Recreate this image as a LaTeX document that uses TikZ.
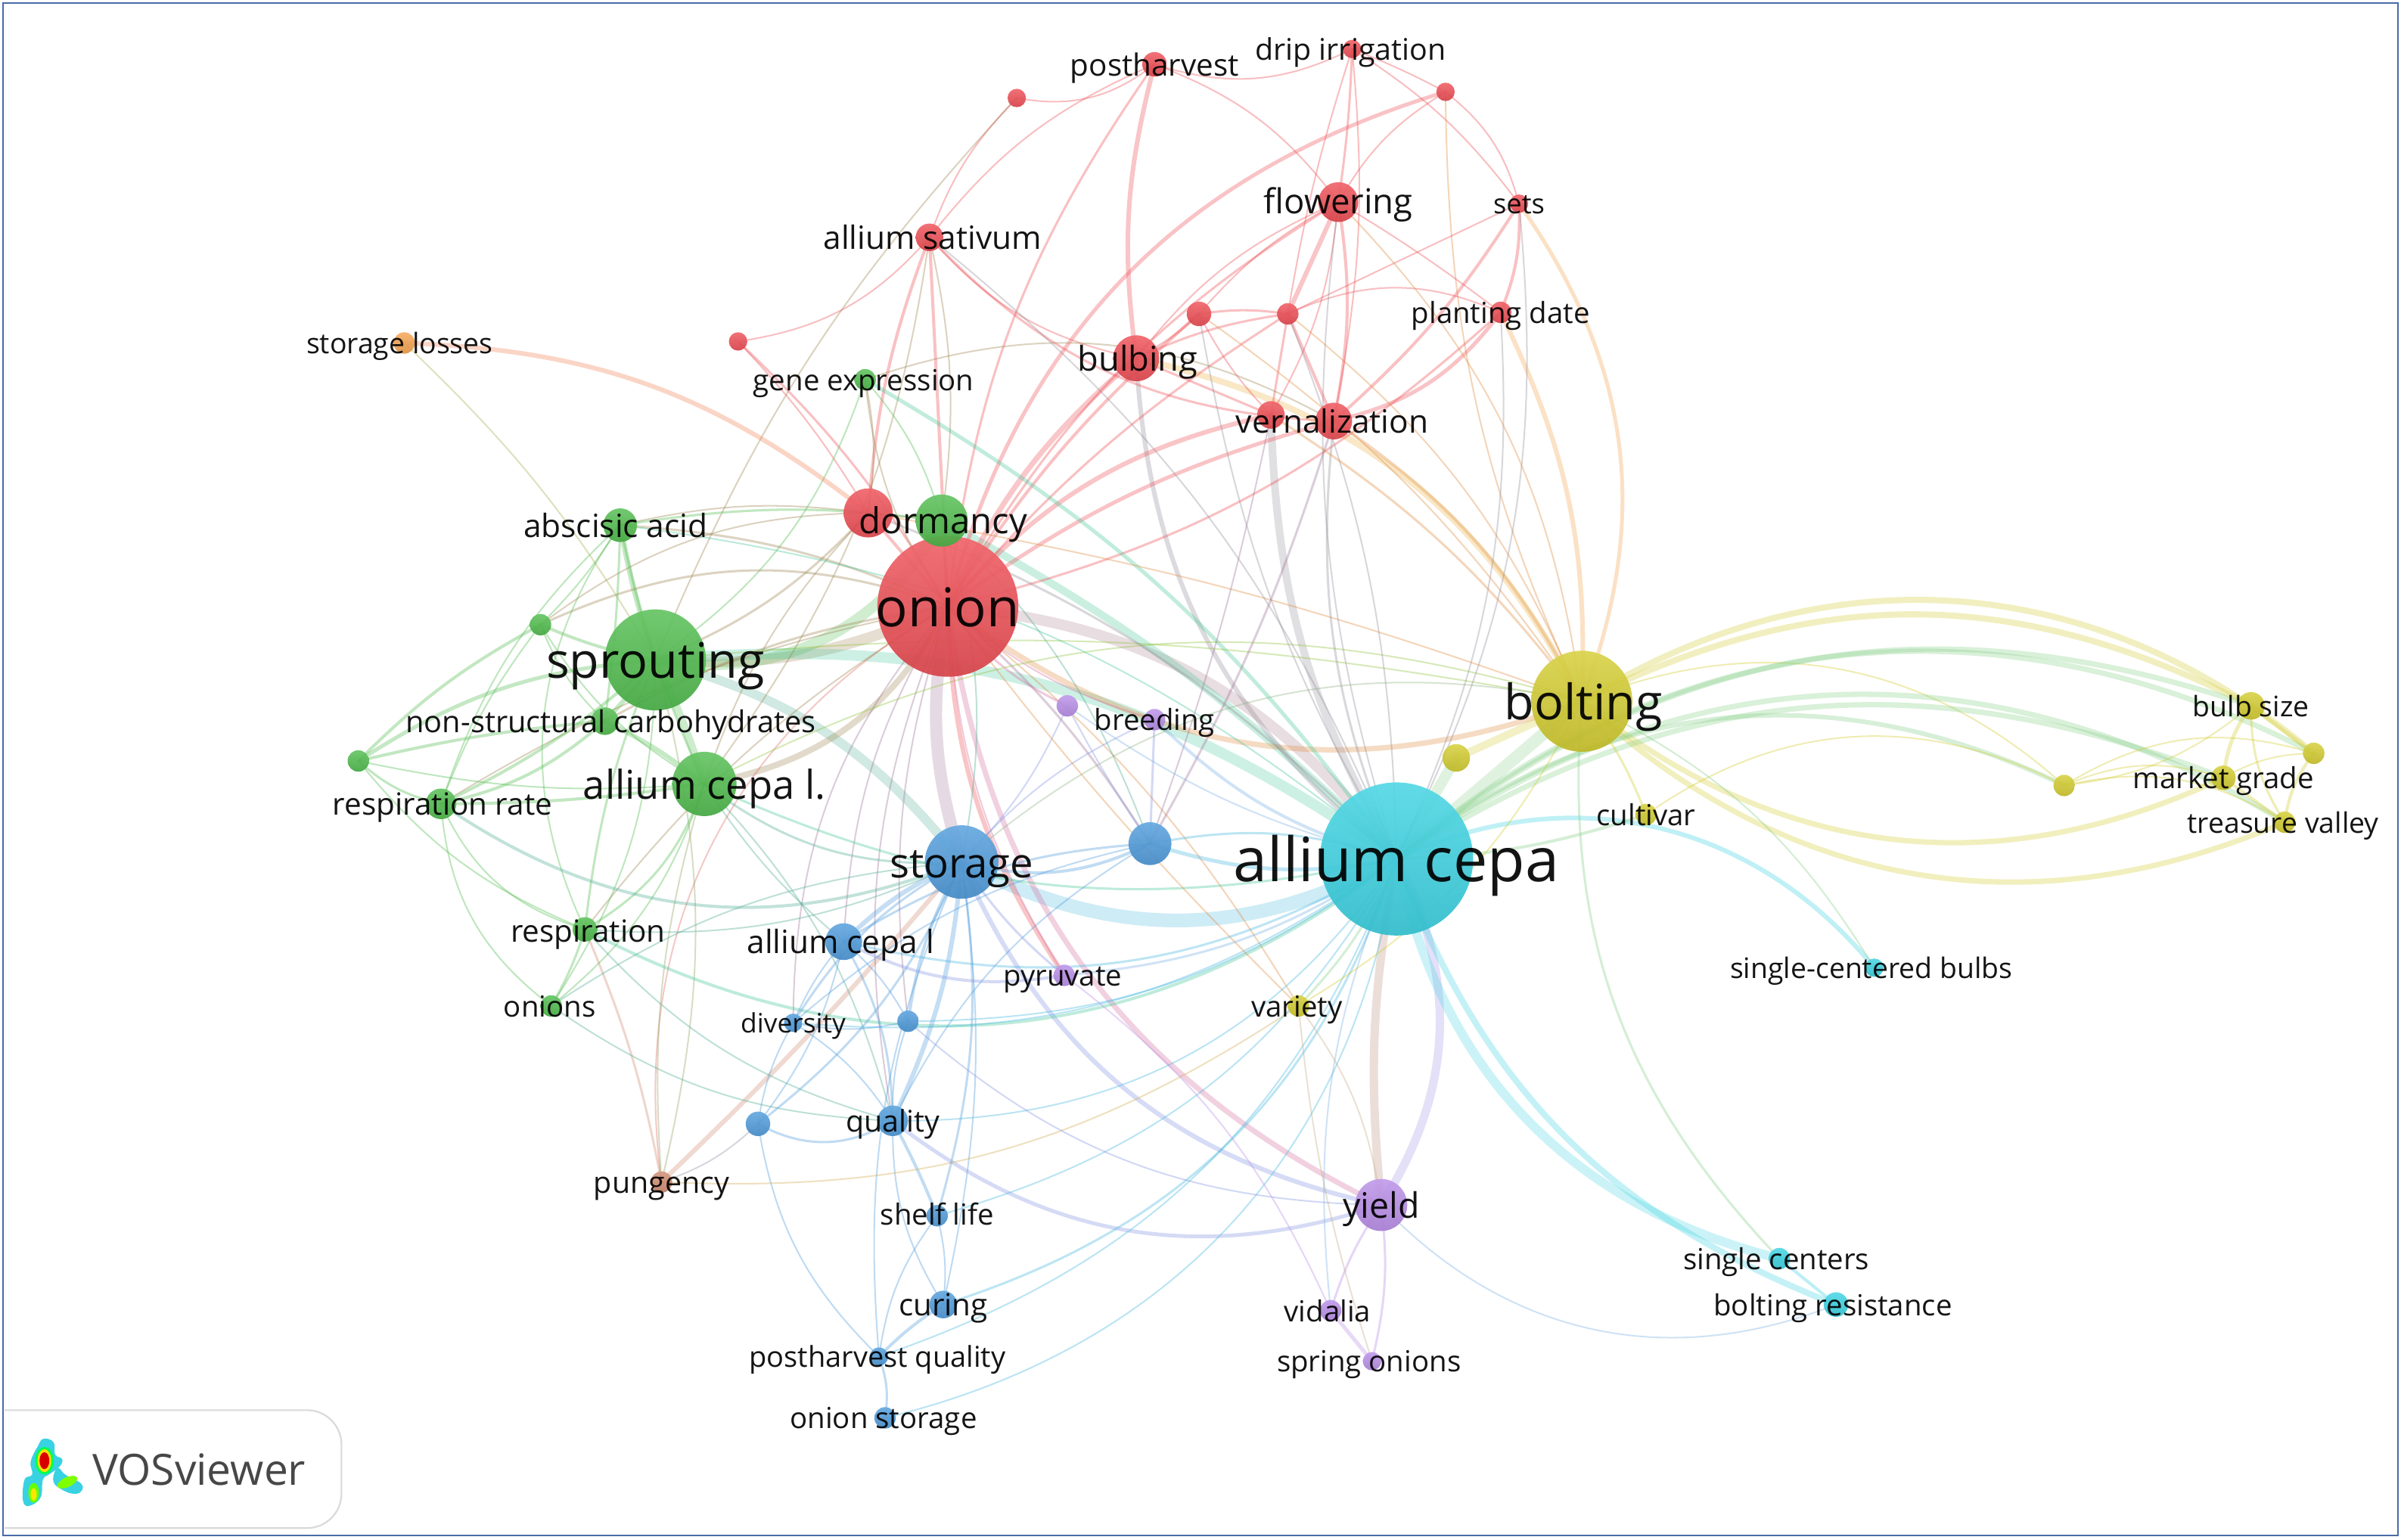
\documentclass[tikz,border=0pt]{standalone}
\usepackage{fontspec}
\setmainfont{Open Sans}
\usetikzlibrary{backgrounds}
\definecolor{cR}{HTML}{EE4B52}
\definecolor{cG}{HTML}{4DBB4A}
\definecolor{cB}{HTML}{4C9ADB}
\definecolor{cC}{HTML}{38D2E2}
\definecolor{cY}{HTML}{D3CC2C}
\definecolor{cP}{HTML}{B88CE8}
\definecolor{cO}{HTML}{F5A24C}
\definecolor{cT}{HTML}{D08A70}
\definecolor{frameblue}{HTML}{4A6CA8}
\tikzset{
  dotnode/.style={circle,inner sep=0pt,outer sep=0pt,fill opacity=.93,draw=none},
  lab/.style={inner sep=0pt,text=black,text opacity=.92},
  edgeline/.style={line cap=round},
}
\newcommand\Nd[5]{\expandafter\def\csname nc@#1\endcsname{#5}%
  \node[dotnode,top color=#5!85!white,bottom color=#5!90!black,minimum size=#4*0.1cm] (#1) at (#2,#3) {};}
\newcommand\Lb[5]{\pgfmathsetmacro\fsz{#4*1.42}\node[lab,text height=1.0*\fsz pt,text depth=0.25*\fsz pt,font=\fontsize{\fsz}{\fsz}\selectfont] (#1t) at (#2,#3) {#5};}
\newcommand\Lk[4]{\edef\ecol{\csname nc@#1\endcsname!50!\csname nc@#2\endcsname}%
  \pgfmathsetmacro\eop{max(.26,.38-.02*#3)}%
  \draw[edgeline,draw opacity=\eop,color=\ecol,line width=#3*1.42pt] (#1.center) to[bend left=#4] (#2.center);}
\newcommand\LkC[5]{\pgfmathsetmacro\eop{max(.26,.38-.02*#3)}%
  \draw[edgeline,draw opacity=\eop,color=#5,line width=#3*1.42pt] (#1.center) to[bend left=#4] (#2.center);}
\begin{document}
\begin{tikzpicture}[x=0.05cm,y=-0.05cm]
\useasboundingbox (0,0) rectangle (1568,1005.8);
% nodes
\Nd{ac}{912}{561}{50}{cC}
\Nd{on}{619}{396}{46}{cR}
\Nd{rd}{567}{335}{16}{cR}
\Nd{bu}{742}{234}{15}{cR}
\Nd{ve}{871}{275}{12}{cR}
\Nd{v2}{830}{271}{9}{cR}
\Nd{fl}{874}{132}{13}{cR}
\Nd{as}{607}{155}{9}{cR}
\Nd{ph}{754}{42}{8}{cR}
\Nd{di}{883}{32}{6}{cR}
\Nd{se}{992}{133}{6}{cR}
\Nd{pd}{980}{204}{7}{cR}
\Nd{r1}{664}{64}{6}{cR}
\Nd{r2}{944}{60}{6}{cR}
\Nd{r3}{482}{223}{6}{cR}
\Nd{r4}{783}{205}{8}{cR}
\Nd{r5}{841}{205}{7}{cR}
\Nd{sp}{428}{431}{33}{cG}
\Nd{dm}{615}{340}{17}{cG}
\Nd{ab}{405}{343}{11}{cG}
\Nd{al}{460}{512}{21}{cG}
\Nd{ns}{395}{471}{9}{cG}
\Nd{rr}{288}{525}{10}{cG}
\Nd{re}{382}{607}{8}{cG}
\Nd{os}{360}{657}{7}{cG}
\Nd{ge}{565}{248}{7}{cG}
\Nd{g1}{353}{408}{7}{cG}
\Nd{g2}{234}{497}{7}{cG}
\Nd{sl}{264}{224}{7}{cO}
\Nd{st}{628}{563}{24}{cB}
\Nd{b1}{751}{551}{14}{cB}
\Nd{cl}{551}{615}{12}{cB}
\Nd{dv}{518}{668}{6}{cB}
\Nd{b2}{593}{667}{7}{cB}
\Nd{qu}{583}{732}{10}{cB}
\Nd{b3}{495}{734}{8}{cB}
\Nd{sh}{612}{794}{7}{cB}
\Nd{cu}{616}{852}{9}{cB}
\Nd{pq}{574}{886}{6}{cB}
\Nd{oa}{578}{926}{7}{cB}
\Nd{br}{754}{470}{7}{cP}
\Nd{p1}{697}{461}{7}{cP}
\Nd{py}{695}{637}{7}{cP}
\Nd{yi}{902}{787}{17}{cP}
\Nd{vi}{869}{856}{7}{cP}
\Nd{so}{896}{889}{6}{cP}
\Nd{pu}{432}{772}{7}{cT}
\Nd{bo}{1033}{458}{33}{cY}
\Nd{y1}{951}{495}{9}{cY}
\Nd{cv}{1075}{532}{7}{cY}
\Nd{va}{848}{657}{7}{cY}
\Nd{bs}{1470}{461}{9}{cY}
\Nd{mg}{1452}{508}{8}{cY}
\Nd{tv}{1492}{537}{7}{cY}
\Nd{y2}{1348}{513}{7}{cY}
\Nd{y3}{1511}{492}{7}{cY}
\Nd{sb}{1224}{632}{6}{cC}
\Nd{sc}{1162}{822}{7}{cC}
\Nd{bz}{1199}{852}{8}{cC}
% edges
\begin{scope}[on background layer]
\fill[white] (0,0) rectangle (1568,1005.8);
% thick main links
\Lk{sp}{on}{7}{-14}
\Lk{sp}{dm}{7}{-36}
\Lk{sp}{st}{6}{18}
\Lk{al}{on}{4}{-26}
\Lk{sp}{al}{5}{4}
\Lk{ab}{sp}{3.5}{-4}
\Lk{ns}{sp}{3}{-4}
\Lk{ns}{al}{3}{6}
\Lk{on}{st}{8}{-14}
\LkC{on}{ac}{7}{24}{cR!62!cC}
\Lk{dm}{ac}{5}{8}
\LkC{sp}{ac}{7}{20}{cG!45!cC}
\Lk{st}{ac}{9}{-28}
\Lk{on}{bo}{3.5}{-29}
\Lk{ve}{bo}{2}{14}
\LkC{bu}{bo}{4}{25}{cO!70!cY}
\Lk{v2}{ac}{5}{-14}
\Lk{bu}{ac}{3}{-24}
\Lk{ac}{bo}{8}{0}
\Lk{ac}{y1}{7}{0}
\Lk{y1}{bo}{5}{0}
\LkC{ac}{yi}{5.5}{-8}{cT!70!gray}
\LkC{ac}{yi}{5.5}{30}{cP!70!cB}
\Lk{ac}{sc}{6}{-32}
\Lk{ac}{bz}{4}{-24}
\Lk{ac}{sb}{3}{38}
\Lk{sc}{bz}{2}{0}
\Lk{on}{yi}{3.5}{-28}
\Lk{st}{yi}{3}{-27}
\LkC{on}{py}{3}{-16}{cR}
\LkC{pu}{st}{3}{-3}{cT}
% bolting fan
\Lk{bo}{y3}{4}{36}
\Lk{bo}{bs}{4}{27}
\Lk{bo}{mg}{3.5}{-32}
\Lk{bo}{tv}{3.5}{-33}
\Lk{bo}{y2}{1}{32}
\Lk{ac}{y3}{3.5}{34}
\Lk{ac}{bs}{3.5}{29}
\Lk{ac}{tv}{3.5}{34}
\Lk{ac}{mg}{3.5}{27}
\Lk{ac}{y2}{3}{32}
\Lk{cv}{y2}{1}{31}
\Lk{bs}{mg}{2.5}{-14}
\Lk{bs}{tv}{1.5}{-16}
\Lk{bs}{y3}{2.5}{0}
\Lk{mg}{tv}{2}{0}
\Lk{y3}{mg}{1}{-14}
\Lk{y3}{tv}{2}{-14}
\Lk{y2}{bs}{1}{-16}
\Lk{y2}{mg}{1}{20}
\Lk{y2}{tv}{1}{22}
\Lk{y2}{y3}{1}{24}
% red network
\Lk{ph}{bu}{3}{-11}
\Lk{ph}{fl}{1}{16}
\Lk{ph}{di}{1}{-22}
\Lk{r1}{ph}{1}{-24}
\Lk{as}{ph}{1}{14}
\Lk{ph}{on}{1.5}{-14}
\Lk{as}{r1}{1}{12}
\Lk{sp}{r1}{1}{10}
\Lk{di}{fl}{1.5}{3}
\Lk{di}{r5}{1}{-4}
\Lk{di}{r2}{1}{3}
\Lk{di}{se}{1}{10}
\Lk{di}{ve}{1}{8}
\Lk{r2}{fl}{1}{-14}
\Lk{r2}{se}{1}{18}
\Lk{r2}{on}{2.5}{-29}
\Lk{r2}{bo}{1}{-12}
\Lk{fl}{r5}{3}{0}
\Lk{fl}{ve}{2}{10}
\Lk{fl}{v2}{1}{12}
\Lk{fl}{r4}{1}{-10}
\Lk{fl}{bu}{1}{-14}
\Lk{fl}{on}{1.5}{-14}
\Lk{fl}{pd}{1}{3}
\Lk{se}{pd}{2}{12}
\Lk{se}{ve}{2}{8}
\Lk{se}{r5}{1}{0}
\LkC{se}{bo}{2.5}{28}{cO}
\LkC{pd}{bo}{3}{14}{cO}
\Lk{pd}{ve}{2.5}{20}
\Lk{pd}{r5}{1}{-24}
\Lk{pd}{on}{1.5}{14}
\Lk{r4}{bu}{1.5}{8}
\Lk{bu}{v2}{1.5}{0}
\Lk{r4}{r5}{1.5}{8}
\Lk{bu}{r5}{1.5}{8}
\Lk{r4}{v2}{1}{-8}
\Lk{r5}{ve}{2}{0}
\Lk{r5}{v2}{1.5}{0}
\Lk{v2}{on}{3}{-18}
\Lk{ve}{on}{2.5}{-10}
\Lk{bu}{on}{3.5}{-12}
\Lk{r4}{on}{2}{-8}
\Lk{r5}{on}{1.5}{-8}
\Lk{as}{on}{2}{0}
\Lk{as}{rd}{2}{-8}
\Lk{r3}{as}{1}{-20}
\Lk{as}{bu}{1}{-18}
\Lk{as}{ve}{1.5}{-22}
\Lk{as}{al}{1}{14}
\Lk{r3}{on}{1.5}{8}
\Lk{r3}{rd}{1}{6}
\Lk{rd}{sp}{1.5}{12}
\Lk{rd}{ab}{1}{-10}
\Lk{rd}{al}{1}{-12}
\Lk{rd}{ge}{1}{-10}
\Lk{rd}{dm}{1}{0}
\Lk{rd}{on}{2}{0}
\Lk{on}{dm}{2}{0}
\Lk{ge}{dm}{1}{12}
\Lk{ge}{on}{1}{-14}
\Lk{ge}{sp}{1}{18}
\Lk{ge}{ac}{2.5}{12}
\Lk{dm}{as}{1}{-10}
\Lk{ge}{ve}{1}{24}
\LkC{sl}{rd}{3}{18}{cO!60!cR}
\Lk{sl}{sp}{1}{8}
\Lk{on}{ab}{1.5}{-10}
\Lk{g1}{on}{1.5}{22}
\Lk{g1}{rd}{1}{18}
\Lk{ns}{on}{1.5}{10}
\Lk{rr}{on}{1}{10}
\Lk{on}{pu}{1}{-34}
\Lk{on}{re}{1}{-10}
\Lk{on}{cl}{1}{-14}
\Lk{on}{qu}{1}{-16}
\Lk{on}{dv}{1}{-20}
\Lk{on}{b2}{1}{-12}
\Lk{on}{b1}{1.5}{8}
\Lk{on}{va}{1}{10}
\Lk{on}{p1}{1.5}{-14}
\Lk{on}{br}{1}{-12}
\Lk{rd}{bo}{1}{5}
% green network
\Lk{ab}{g1}{1}{6}
\Lk{ab}{al}{1.5}{-6}
\Lk{ab}{ns}{1.5}{3}
\Lk{ab}{dm}{1.5}{8}
\Lk{ab}{rr}{1}{-14}
\Lk{ab}{re}{1}{-30}
\Lk{g1}{sp}{2}{-6}
\Lk{g2}{g1}{2}{8}
\Lk{g1}{ns}{1}{-12}
\Lk{g1}{rr}{1}{-8}
\Lk{g1}{al}{1}{-14}
\Lk{g2}{sp}{2.5}{14}
\Lk{g2}{rr}{1.5}{-14}
\Lk{g2}{ns}{2}{4}
\Lk{g2}{re}{1}{-14}
\Lk{g2}{al}{1}{-8}
\Lk{rr}{sp}{2}{-8}
\Lk{rr}{ns}{2}{-14}
\Lk{rr}{al}{2}{-4}
\Lk{rr}{re}{1}{-24}
\Lk{rr}{os}{1}{-24}
\Lk{al}{re}{1.5}{20}
\Lk{sp}{re}{1.5}{-8}
\Lk{re}{os}{1.5}{6}
\LkC{re}{pu}{1.5}{6}{cT}
\Lk{os}{al}{1}{-16}
\Lk{os}{sp}{1}{-16}
\Lk{sp}{pu}{1}{14}
\Lk{al}{pu}{1}{-10}
\Lk{re}{ac}{2}{-33}
\Lk{re}{st}{1}{-14}
\Lk{rr}{st}{2}{-28}
\Lk{al}{st}{1.5}{-20}
\Lk{al}{cl}{1}{-8}
\Lk{os}{st}{1}{14}
\Lk{os}{qu}{1}{-16}
\Lk{dm}{st}{1}{14}
\Lk{sp}{bo}{1}{8}
\Lk{al}{bo}{1}{22}
\Lk{al}{ac}{1.5}{-18}
\Lk{ab}{ac}{1}{16}
\Lk{al}{qu}{1}{14}
\Lk{re}{qu}{1}{-16}
% blue network
\Lk{st}{b1}{2}{-20}
\Lk{b1}{ac}{2.5}{-14}
\Lk{b1}{ac}{1.5}{14}
\Lk{b1}{br}{1.5}{0}
\Lk{b1}{p1}{1}{3}
\Lk{b1}{dm}{1}{-12}
\Lk{b1}{ve}{1.5}{-6}
\Lk{b1}{v2}{1}{-4}
\Lk{b1}{cl}{1.5}{-14}
\Lk{b1}{qu}{1}{-16}
\Lk{b1}{dv}{1}{-14}
\Lk{cl}{st}{3}{10}
\Lk{cl}{qu}{1.5}{14}
\Lk{cl}{b3}{1}{12}
\Lk{cl}{dv}{1}{-8}
\Lk{cl}{b2}{1}{10}
\Lk{dv}{st}{1.5}{14}
\Lk{dv}{b3}{1}{-10}
\Lk{dv}{qu}{1}{12}
\Lk{b2}{st}{2}{10}
\Lk{b2}{qu}{1}{-10}
\Lk{b2}{dv}{1}{12}
\Lk{qu}{st}{3}{-10}
\Lk{qu}{sh}{2}{3}
\Lk{qu}{yi}{2.5}{-28}
\Lk{qu}{cu}{1}{-16}
\Lk{b3}{qu}{1.5}{-30}
\Lk{qu}{ac}{1}{-28}
\Lk{b3}{st}{1.5}{-14}
\Lk{b3}{pq}{1}{-18}
\Lk{sh}{cu}{1}{10}
\Lk{sh}{st}{1.5}{-12}
\Lk{pq}{sh}{1}{14}
\Lk{cu}{st}{1}{-10}
\Lk{cu}{ac}{1.5}{-27}
\Lk{cu}{pq}{2}{-6}
\Lk{pq}{oa}{1.5}{14}
\Lk{oa}{ac}{1}{-34}
\Lk{pq}{ac}{1}{-25}
\Lk{pq}{st}{1}{14}
\Lk{cl}{ac}{1.5}{-22}
\Lk{dv}{ac}{1}{-20}
\Lk{b2}{ac}{1}{-18}
\Lk{pu}{b3}{1}{-12}
\Lk{pu}{va}{1}{-18}
\Lk{sh}{ac}{1}{-22}
\Lk{st}{bo}{1}{26}
\Lk{b2}{yi}{1}{-20}
% purple
\Lk{yi}{vi}{1.5}{-8}
\Lk{so}{yi}{1.5}{-10}
\Lk{vi}{so}{2.5}{0}
\Lk{yi}{bz}{1}{-34}
\Lk{vi}{ac}{1}{14}
\Lk{py}{vi}{1}{14}
\Lk{py}{on}{1}{14}
\Lk{py}{st}{1.5}{8}
\Lk{py}{cl}{2}{18}
\Lk{py}{ac}{1.5}{-14}
\Lk{br}{ac}{2}{-14}
\Lk{br}{st}{1}{-12}
\Lk{p1}{st}{1}{10}
\Lk{p1}{ac}{1}{-10}
% yellow/cyan misc
\Lk{bo}{cv}{1.5}{8}
\Lk{ac}{cv}{2}{-8}
\Lk{bo}{va}{1}{16}
\Lk{ac}{va}{1.5}{10}
\Lk{va}{on}{1}{4}
\Lk{va}{yi}{1}{14}
\Lk{va}{so}{1}{-6}
\Lk{sb}{bo}{1}{-16}
\Lk{bo}{sc}{1.5}{-24}
\Lk{ac}{ve}{1.5}{14}
\Lk{ac}{fl}{1}{12}
\Lk{ac}{r5}{1}{-10}
\Lk{ac}{r4}{1}{10}
\Lk{ac}{pd}{1}{-14}
\Lk{ac}{se}{1}{-16}
\Lk{ac}{as}{1}{-14}
\Lk{ac}{rd}{1.5}{-12}
\Lk{bo}{r5}{1}{-14}
\Lk{bo}{fl}{1}{-18}
\Lk{bo}{r4}{1}{-10}
\Lk{bo}{v2}{1.5}{-10}
\end{scope}
% labels
\Lb{on}{619}{396}{35}{onion}
\Lb{ac}{912}{561}{40}{allium cepa}
\Lb{sp}{428}{431}{32}{sprouting}
\Lb{bo}{1034}{458}{32}{bolting}
\Lb{st}{628}{563}{27}{storage}
\Lb{al}{460}{512}{26}{allium cepa l.}
\Lb{dm}{616}{340}{23.4}{dormancy}
\Lb{bu}{743}{234}{22.4}{bulbing}
\Lb{fl}{874}{131}{22.5}{flowering}
\Lb{ve}{870}{275}{21}{vernalization}
\Lb{yi}{902}{787}{23}{yield}
\Lb{ab}{402}{343}{21}{abscisic acid}
\Lb{as}{609}{155}{21}{allium sativum}
\Lb{ph}{754}{42}{20}{postharvest}
\Lb{di}{882}{32}{19.5}{drip irrigation}
\Lb{se}{992}{133}{18}{sets}
\Lb{pd}{980}{204}{19}{planting date}
\Lb{sl}{261}{224}{18.5}{storage losses}
\Lb{ge}{564}{248}{19}{gene expression}
\Lb{ns}{399}{471}{19.7}{non-structural carbohydrates}
\Lb{rr}{289}{525}{20}{respiration rate}
\Lb{re}{384}{608}{20}{respiration}
\Lb{os}{359}{657}{19}{onions}
\Lb{cl}{549}{615}{21}{allium cepa l}
\Lb{dv}{518}{668}{17.5}{diversity}
\Lb{qu}{583}{732}{19.5}{quality}
\Lb{sh}{612}{793}{19}{shelf life}
\Lb{cu}{616}{852}{20}{curing}
\Lb{pq}{573}{886}{18.8}{postharvest quality}
\Lb{oa}{577}{926}{19}{onion storage}
\Lb{br}{754}{470}{19}{breeding}
\Lb{py}{694}{637}{19}{pyruvate}
\Lb{pu}{432}{772}{19.5}{pungency}
\Lb{va}{847}{657}{19}{variety}
\Lb{cv}{1075}{532}{19}{cultivar}
\Lb{vi}{867}{856}{19}{vidalia}
\Lb{so}{894}{889}{19}{spring onions}
\Lb{sc}{1160}{822}{19}{single centers}
\Lb{bz}{1197}{852}{19}{bolting resistance}
\Lb{sb}{1222}{632}{18.5}{single-centered bulbs}
\Lb{bs}{1470}{461}{18.5}{bulb size}
\Lb{mg}{1452}{508}{19}{market grade}
\Lb{tv}{1491}{537}{18.5}{treasure valley}
% logo box
\draw[draw=gray!30,line width=1.5pt,rounded corners=32pt,fill=white] (3,921) -- (223,921) -- (223,998) -- (3,998);
\fill[cC] plot[smooth cycle,tension=.7] coordinates {(28.4,939.7)(35,942)(36,950)(40.6,953)(38.8,958)(32,963)(28,966.5)(26.5,978)(19,983.5)(15,980)(16,966.5)(21,963)(20,954.7)(24.6,944.7)};
\fill[cC] plot[smooth cycle,tension=.7] coordinates {(38.8,959)(42.5,963)(53,969)(53,974)(48,975.6)(40.6,973)(35,968)(36,960.6)};
\fill[green!70!cyan] (29,954) ellipse (6 and 9);
\fill[yellow!80!orange] (29,954) ellipse (4.5 and 7.5);
\fill[red!85!black] (29,954) ellipse (3.2 and 5.5);
\fill[green!60!yellow] (22,975) ellipse (3.5 and 6.5);
\fill[yellow!90!orange] (22,976) ellipse (2 and 4);
\fill[green!50!yellow,rotate around={25:(44,968)}] (44,968) ellipse (7 and 3.2);
\node[inner sep=0pt,text=black!72,font=\fontsize{40}{44}\selectfont] (vos) at (130,960) {VOSviewer};
% frame
\draw[frameblue,line width=1.5pt] (2,2) rectangle (1566,1003);
\end{tikzpicture}
\end{document}
